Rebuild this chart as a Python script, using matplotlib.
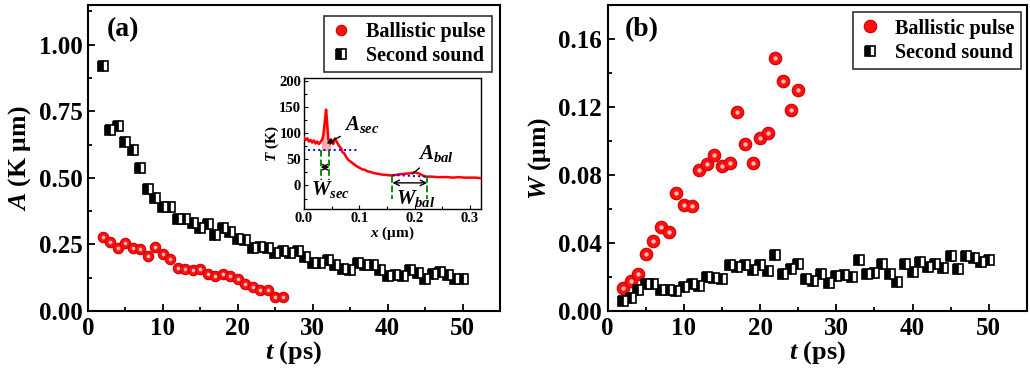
import matplotlib
matplotlib.use("Agg")
import matplotlib.pyplot as plt
import numpy as np

plt.rcParams['font.family'] = 'Liberation Serif'
plt.rcParams['font.weight'] = 'bold'
plt.rcParams['mathtext.fontset'] = 'custom'
plt.rcParams['mathtext.rm'] = 'Liberation Serif:bold'
plt.rcParams['mathtext.it'] = 'Liberation Serif:italic:bold'
plt.rcParams['mathtext.bf'] = 'Liberation Serif:bold'

# ---------------- data ----------------
# panel (a): amplitude A
t_bal_a = list(range(2, 27))
A_bal = [0.279, 0.260, 0.238, 0.257, 0.235, 0.231, 0.206, 0.241, 0.213, 0.194,
         0.162, 0.157, 0.153, 0.159, 0.140, 0.130, 0.140, 0.130, 0.122, 0.100,
         0.090, 0.078, 0.080, 0.053, 0.053]
t_sec = list(range(2, 51))
A_sec = [0.922, 0.680, 0.695, 0.636, 0.605, 0.536, 0.460, 0.423, 0.391, 0.391,
         0.345, 0.345, 0.331, 0.310, 0.325, 0.287, 0.312, 0.295, 0.271, 0.268,
         0.235, 0.241, 0.235, 0.216, 0.226, 0.216, 0.226, 0.203, 0.182, 0.182,
         0.190, 0.172, 0.159, 0.153, 0.181, 0.172, 0.172, 0.153, 0.130, 0.134,
         0.130, 0.153, 0.143, 0.119, 0.140, 0.147, 0.134, 0.122, 0.119]

# panel (b): width W
t_bal_b = list(range(2, 26))
W_bal = [0.0137, 0.0176, 0.0219, 0.0333, 0.0411, 0.0494, 0.0464, 0.0693, 0.0621, 0.0617,
         0.0830, 0.0866, 0.0915, 0.0852, 0.0870, 0.1170, 0.0980, 0.0870, 0.1020, 0.1046,
         0.1490, 0.1355, 0.1180, 0.1297]
W_sec = [0.0057, 0.0076, 0.0125, 0.0160, 0.0160, 0.0125, 0.0125, 0.0118, 0.0140, 0.0160,
         0.0145, 0.0200, 0.0196, 0.0190, 0.0268, 0.0259, 0.0268, 0.0239, 0.0268, 0.0235,
         0.0331, 0.0215, 0.0249, 0.0278, 0.0190, 0.0174, 0.0219, 0.0165, 0.0204, 0.0210,
         0.0200, 0.0302, 0.0215, 0.0225, 0.0278, 0.0215, 0.0170, 0.0278, 0.0229, 0.0288,
         0.0259, 0.0278, 0.0253, 0.0321, 0.0249, 0.0321, 0.0313, 0.0288, 0.0302]

# inset: temperature profile
x_prof = [0.000, 0.003, 0.006, 0.009, 0.012, 0.015, 0.018, 0.021, 0.024, 0.027,
          0.030, 0.033, 0.035, 0.038, 0.040, 0.042, 0.044, 0.047, 0.050, 0.053,
          0.056, 0.058, 0.061, 0.064, 0.067, 0.070, 0.073, 0.076, 0.080, 0.085,
          0.090, 0.095, 0.100, 0.105, 0.110, 0.115, 0.120, 0.125, 0.130, 0.140,
          0.150, 0.160, 0.170, 0.180, 0.190, 0.200, 0.205, 0.210, 0.215, 0.220,
          0.230, 0.240, 0.250, 0.260, 0.270, 0.280, 0.290, 0.300, 0.310, 0.320]
T_prof = [92, 87, 90, 84, 87, 82, 86, 80, 84, 79,
          83, 88, 96, 125, 145, 118, 88, 80, 84, 79,
          90, 86, 80, 75, 71, 63, 61, 55, 49, 45,
          41, 37, 34, 31, 30, 27, 26, 24, 23, 21,
          20, 19, 21, 22, 23, 25, 24, 22, 19, 17,
          17, 16, 16, 16, 15, 16, 15, 15, 15, 14]

legend_labels = ['Ballistic pulse', 'Second sound']

# ---------------- figure ----------------
fig = plt.figure(figsize=(10.3, 3.72), dpi=100)
ax1 = fig.add_axes([0.0854, 0.164, 0.400, 0.823])
ax2 = fig.add_axes([0.590, 0.164, 0.407, 0.823])


def style_axes(ax, fs=18):
    for s in ax.spines.values():
        s.set_linewidth(1.5)
    ax.tick_params(which='both', direction='in', top=False, right=False,
                   labelsize=fs, width=1.3, pad=4)
    ax.tick_params(which='major', length=5)
    ax.tick_params(which='minor', length=3)
    for lab in ax.get_xticklabels() + ax.get_yticklabels():
        lab.set_fontweight('bold')


def bal_markers(ax, t, v, ms):
    ax.plot(t, v, 'o', ms=ms, mfc='#ff1010', mec='#d00000', mew=0.8,
            label=legend_labels[0], zorder=3)
    ax.plot(t, v, 'o', ms=ms * 0.35, mfc='#ffd0d0', mec='none', alpha=0.9, zorder=4)


def sec_markers(ax, t, v, ms):
    ax.plot(t, v, 's', ms=ms, fillstyle='left', mfc='black', mfcalt='white',
            mec='black', mew=1.2, label=legend_labels[1], zorder=3)


def make_legend(ax, anchor):
    leg = ax.legend(loc='upper right', bbox_to_anchor=anchor, fontsize=14.5,
                    frameon=True, fancybox=False, edgecolor='black',
                    handletextpad=0.7, borderpad=0.3, labelspacing=0.2,
                    handlelength=1.1, borderaxespad=0)
    leg.get_frame().set_linewidth(1.2)
    for txt in leg.get_texts():
        txt.set_fontweight('bold')


# panel (a)
bal_markers(ax1, t_bal_a, A_bal, 7.5)
sec_markers(ax1, t_sec, A_sec, 7.5)
ax1.set_xlim(0, 55)
ax1.set_ylim(0, 1.15)
ax1.set_xticks([0, 10, 20, 30, 40, 50])
ax1.set_xticks([5, 15, 25, 35, 45], minor=True)
ax1.set_yticks([0, 0.25, 0.5, 0.75, 1.0])
ax1.set_yticks([0.125, 0.375, 0.625, 0.875, 1.125], minor=True)
ax1.yaxis.set_major_formatter(plt.FormatStrFormatter('%.2f'))
ax1.set_xlabel('$t$ (ps)', fontsize=19, fontweight='bold', labelpad=0)
ax1.set_ylabel('$A$ (K μm)', fontsize=18.5, fontweight='bold', labelpad=4)
ax1.text(0.045, 0.96, '(a)', transform=ax1.transAxes, fontsize=20,
         fontweight='bold', va='top')
style_axes(ax1)
make_legend(ax1, (0.98, 0.965))

# panel (b)
bal_markers(ax2, t_bal_b, W_bal, 9)
sec_markers(ax2, t_sec, W_sec, 7.5)
ax2.set_xlim(0, 55)
ax2.set_ylim(0, 0.18)
ax2.set_xticks([0, 10, 20, 30, 40, 50])
ax2.set_xticks([5, 15, 25, 35, 45], minor=True)
ax2.set_yticks([0, 0.04, 0.08, 0.12, 0.16])
ax2.set_yticks([0.02, 0.06, 0.10, 0.14], minor=True)
ax2.yaxis.set_major_formatter(plt.FormatStrFormatter('%.2f'))
ax2.set_xlabel('$t$ (ps)', fontsize=19, fontweight='bold', labelpad=0)
ax2.set_ylabel('$W$ (μm)', fontsize=18.5, fontweight='bold', labelpad=4)
ax2.text(0.04, 0.96, '(b)', transform=ax2.transAxes, fontsize=20,
         fontweight='bold', va='top')
style_axes(ax2)
make_legend(ax2, (0.985, 0.975))

# inset in panel (a)
axin = fig.add_axes([0.2951, 0.438, 0.1718, 0.352])
axin.plot(x_prof, T_prof, color='red', lw=1.8, zorder=3)
xp = np.array(x_prof)
tp = np.array(T_prof)
sel = (xp >= 0.033) & (xp <= 0.047)
axin.fill_between(xp[sel], 68, tp[sel], color='#ff9090', alpha=0.7, zorder=2)
axin.plot([0.008, 0.098], [68, 68], color='blue', ls=':', lw=1.4, zorder=4)
axin.plot([0.160, 0.222], [20, 17], color='blue', ls=':', lw=1.4, zorder=4)
for xv in [0.030, 0.046]:
    axin.plot([xv, xv], [68, 10], color='green', ls='--', lw=1.3, zorder=4)
for xv in [0.160, 0.223]:
    axin.plot([xv, xv], [18, -25], color='green', ls='--', lw=1.3, zorder=4)
axin.annotate('', xy=(0.030, 35), xytext=(0.046, 35),
              arrowprops=dict(arrowstyle='<->', color='black', lw=1.0,
                              shrinkA=0, shrinkB=0))
axin.annotate('', xy=(0.160, 5), xytext=(0.223, 5),
              arrowprops=dict(arrowstyle='<->', color='black', lw=1.0,
                              shrinkA=0, shrinkB=0))
axin.annotate('$A_{sec}$', xy=(0.041, 80), xytext=(0.073, 105), fontsize=15,
              arrowprops=dict(arrowstyle='-|>', color='black', lw=1.0,
                              shrinkA=1, shrinkB=0, mutation_scale=8))
axin.annotate('$A_{bal}$', xy=(0.196, 22), xytext=(0.207, 50), fontsize=15,
              arrowprops=dict(arrowstyle='-', color='black', lw=1.0,
                              shrinkA=1, shrinkB=0))
axin.text(0.012, -8, '$W_{sec}$', fontsize=15, va='center')
axin.text(0.166, -24, '$W_{bal}$', fontsize=15, va='center')
axin.set_xlim(0, 0.32)
axin.set_ylim(-45, 205)
axin.set_xticks([0.0, 0.1, 0.2, 0.3])
axin.set_xticks([0.05, 0.15, 0.25], minor=True)
axin.set_yticks([0, 50, 100, 150, 200])
axin.set_yticks([-25, 25, 75, 125, 175], minor=True)
axin.xaxis.set_major_formatter(plt.FormatStrFormatter('%.1f'))
axin.set_xlabel('$x$ (μm)', fontsize=11, fontweight='bold', labelpad=0)
axin.set_ylabel('$T$ (K)', fontsize=11, fontweight='bold', labelpad=-1)
for s in axin.spines.values():
    s.set_linewidth(1.0)
axin.tick_params(which='both', direction='in', labelsize=10.5, width=0.8,
                 top=False, right=False, pad=2)
axin.tick_params(which='major', length=3)
axin.tick_params(which='minor', length=2)

fig.savefig('out.png', dpi=100)
